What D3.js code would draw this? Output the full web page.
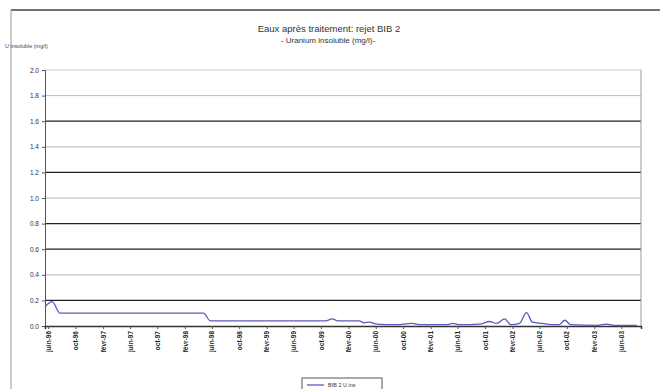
<!DOCTYPE html>
<html><head><meta charset="utf-8">
<script src="https://cdn.jsdelivr.net/npm/d3@7"></script>
<style>body{margin:0;background:#fff}svg{display:block;font-family:"Liberation Sans",Arial,sans-serif}</style>
</head><body><svg id="c" width="660" height="389"></svg>
<script>
const titleLines = ["Eaux après traitement: rejet BIB 2", "- Uranium insoluble (mg/l)-"];
const yTitle = "U insoluble (mg/l)";
const seriesName = "BIB 2 U ins";
const dates = ["1996-05-18","1996-06-19","1996-07-24","1997-01-19","1997-09-01","1998-04-25","1998-05-25","1998-12-01","1999-10-22","1999-11-19","1999-12-16","2000-03-19","2000-04-10","2000-05-04","2000-06-04","2000-09-01","2000-11-07","2000-12-22","2001-04-13","2001-05-10","2001-06-10","2001-09-07","2001-10-22","2001-11-22","2001-12-28","2002-01-25","2002-03-04","2002-04-04","2002-05-01","2002-06-13","2002-07-25","2002-08-28","2002-09-22","2002-10-19","2003-02-13","2003-03-28","2003-04-28","2003-08-10"];
const values = [0.15,0.19,0.10,0.10,0.10,0.10,0.04,0.04,0.04,0.055,0.04,0.04,0.025,0.03,0.015,0.01,0.02,0.01,0.01,0.02,0.01,0.015,0.035,0.02,0.055,0.01,0.02,0.105,0.03,0.02,0.01,0.01,0.045,0.01,0.005,0.015,0.005,0.005];
const tickDates = ["1996-06-01","1996-10-01","1997-02-01","1997-06-01","1997-10-01","1998-02-01","1998-06-01","1998-10-01","1999-02-01","1999-06-01","1999-10-01","2000-02-01","2000-06-01","2000-10-01","2001-02-01","2001-06-01","2001-10-01","2002-02-01","2002-06-01","2002-10-01","2003-02-01","2003-06-01"];
const tickLabels = ["juin-96","oct-96","févr-97","juin-97","oct-97","févr-98","juin-98","oct-98","févr-99","juin-99","oct-99","févr-00","juin-00","oct-00","févr-01","juin-01","oct-01","févr-02","juin-02","oct-02","févr-03","juin-03"];
const yTicks = [0,0.2,0.4,0.6,0.8,1.0,1.2,1.4,1.6,1.8,2.0];
const darkGrid = [1.6,1.2,0.8,0.6,0.2];
const domainStart = "1996-05-18", domainEnd = "2003-08-28";

const parse = d3.timeParse("%Y-%m-%d");
const data = dates.map((d,i)=>({date:parse(d), v:values[i]}));
const svg = d3.select("#c");
const L=45,R=641,T=70,B=326;
const x = d3.scaleTime().domain([parse(domainStart),parse(domainEnd)]).range([L,R]);
const y = d3.scaleLinear().domain([0,2]).range([B,T]);

// frame
svg.append("line").attr("x1",11).attr("x2",660).attr("y1",10).attr("y2",10).attr("stroke","#444").attr("stroke-width",1.5);
svg.append("line").attr("x1",11).attr("x2",11).attr("y1",10).attr("y2",389).attr("stroke","#999").attr("stroke-width",1);

// titles
svg.selectAll(".t").data(titleLines).join("text").attr("x",(d,i)=>i?328:329).attr("y",(d,i)=>32+i*11)
  .attr("text-anchor","middle").attr("font-size",(d,i)=>i?8:9.5).attr("fill","#333").text(d=>d);
svg.append("text").attr("x",5).attr("y",48).attr("font-size",5.5).attr("fill","#444").text(yTitle);

// grid
svg.append("g").selectAll("line").data(yTicks.filter(v=>v>0 && v<2)).join("line")
  .attr("x1",L).attr("x2",R).attr("y1",d=>y(d)).attr("y2",d=>y(d))
  .attr("stroke",d=>darkGrid.some(g=>Math.abs(g-d)<1e-9)?"#222":"#aaa")
  .attr("stroke-width",d=>darkGrid.some(g=>Math.abs(g-d)<1e-9)?1.3:0.8);
// plot right & top border
svg.append("line").attr("x1",R).attr("x2",R).attr("y1",T).attr("y2",B).attr("stroke","#999");
svg.append("line").attr("x1",L).attr("x2",R).attr("y1",T).attr("y2",T).attr("stroke","#bbb").attr("stroke-width",0.8);

// y axis
const ya = svg.append("g").attr("transform",`translate(${L},0)`)
  .call(d3.axisLeft(y).tickValues(yTicks).tickFormat(d3.format(".1f")).tickSize(3));
ya.selectAll("text").attr("font-size",6.5).attr("fill","#333");
ya.selectAll("path,line").attr("stroke","#555");

// x axis
const xa = svg.append("g").attr("transform",`translate(0,${B})`)
  .call(d3.axisBottom(x).tickValues(tickDates.map(parse)).tickFormat((d,i)=>tickLabels[i]).tickSize(3));
xa.selectAll("path").attr("stroke","#333").attr("stroke-width",1.5);
xa.selectAll("line").attr("stroke","#555");
xa.selectAll("text").attr("font-size",6.5).attr("fill","#222").attr("font-weight","bold")
  .attr("transform","rotate(-90)").attr("text-anchor","end").attr("dx","-5").attr("y",0).attr("x",0)
  .attr("dy","0.32em");

// series
const line = d3.line().x(d=>x(d.date)).y(d=>y(d.v)).curve(d3.curveMonotoneX);
svg.append("path").datum(data).attr("d",line).attr("fill","none").attr("stroke","#5a5ac0").attr("stroke-width",1.3);

// legend
const lg = svg.append("g").attr("transform","translate(302,378)");
lg.append("rect").attr("width",80).attr("height",14).attr("fill","#fff").attr("stroke","#555").attr("stroke-width",1);
lg.append("line").attr("x1",5).attr("x2",22).attr("y1",7).attr("y2",7).attr("stroke","#5a5ac0").attr("stroke-width",1.3);
lg.append("text").attr("x",26).attr("y",9).attr("font-size",5.5).attr("fill","#333").text(seriesName);
</script></body></html>
